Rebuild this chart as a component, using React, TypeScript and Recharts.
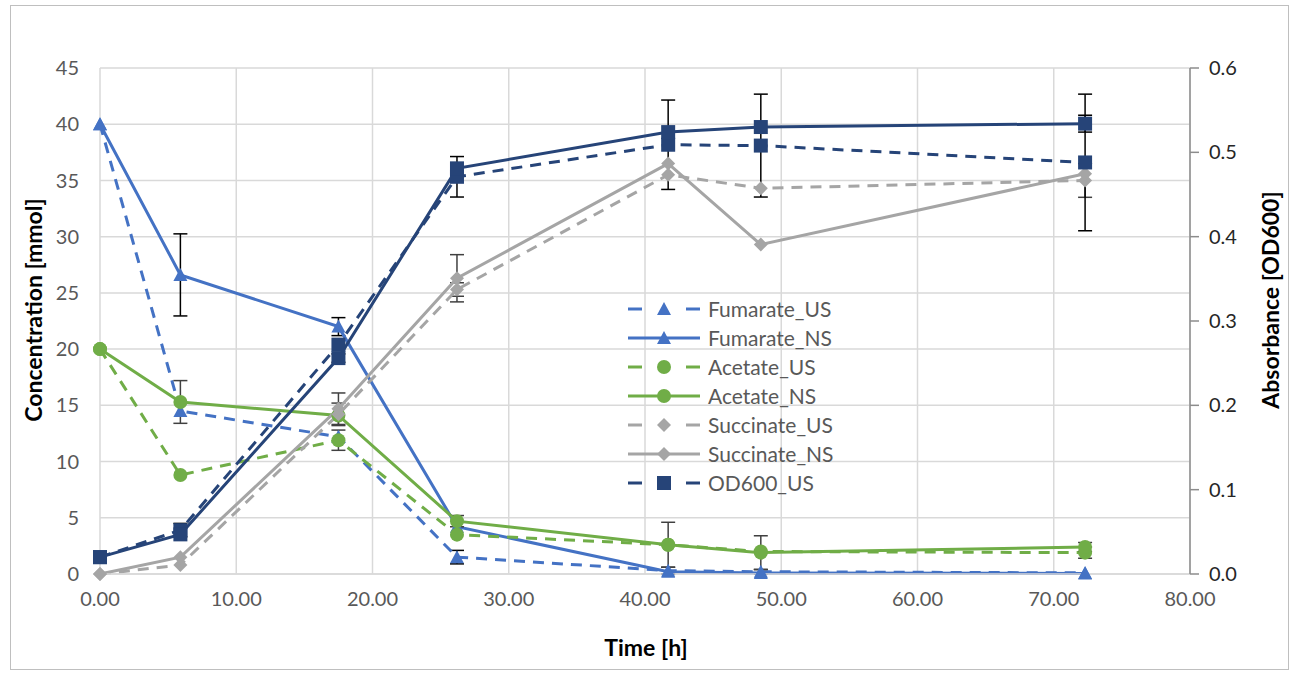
import React from 'react';
import { LineChart, Line, XAxis, YAxis, CartesianGrid, ErrorBar, Legend } from 'recharts';

const times = [0, 5.9, 17.5, 26.2, 41.7, 48.5, 72.3];
const fumarateUS = [40, 14.5, 12.2, 1.5, 0.3, 0.2, 0.1];
const fumarateNS = [40, 26.6, 22.0, 4.2, 0.2, 0.1, 0.05];
const acetateUS = [20, 8.8, 11.9, 3.5, 2.6, 2.0, 1.9];
const acetateNS = [20, 15.3, 14.1, 4.7, 2.6, 1.9, 2.4];
const succinateUS = [0, 0.8, 14.2, 25.3, 35.5, 34.3, 35.0];
const succinateNS = [0, 1.5, 14.7, 26.3, 36.5, 29.3, 35.6];
const od600US = [0.02, 0.052, 0.272, 0.471, 0.509, 0.508, 0.488];
const od600NS = [0.02, 0.047, 0.256, 0.481, 0.524, 0.53, 0.534];

const fumarateUSErr = [null, null, null, 0.6, 0.3, 0.2, null];
const fumarateNSErr = [null, 3.65, 0.8, null, null, null, null];
const acetateUSErr = [null, null, 0.9, null, null, null, 0.5];
const acetateNSErr = [null, 1.9, null, 0.5, 2.0, 1.5, 0.4];
const succinateUSErr = [null, null, 1.0, 0.6, null, null, 1.5];
const succinateNSErr = [null, null, 1.4, 2.1, null, null, null];
const od600USErr = [null, 0.008, null, 0.024, 0.053, 0.061, 0.081];
const od600NSErr = [null, null, 0.005, null, null, null, 0.01];

const xTicks = [0, 10, 20, 30, 40, 50, 60, 70, 80];
const leftTicks = [0, 5, 10, 15, 20, 25, 30, 35, 40, 45];
const rightTicks = [0, 0.1, 0.2, 0.3, 0.4, 0.5, 0.6];

const BLUE = '#4472C4';
const GREEN = '#70AD47';
const GRAY = '#A5A5A5';
const NAVY = '#264478';
const FONT = "Lato, 'Open Sans', sans-serif";

const data = times.map((t, i) => ({
  t,
  fus: fumarateUS[i], fns: fumarateNS[i],
  aus: acetateUS[i], ans: acetateNS[i],
  sus: succinateUS[i], sns: succinateNS[i],
  ous: od600US[i], ons: od600NS[i],
  fusE: fumarateUSErr[i], fnsE: fumarateNSErr[i],
  ausE: acetateUSErr[i], ansE: acetateNSErr[i],
  susE: succinateUSErr[i], snsE: succinateNSErr[i],
  ousE: od600USErr[i], onsE: od600NSErr[i],
}));

type ShapeName = 'triangle' | 'circle' | 'diamond' | 'square';

function Marker({ cx, cy, shape, color }: { cx: number; cy: number; shape: ShapeName; color: string }) {
  if (shape === 'triangle') {
    return <polygon points={`${cx},${cy - 7} ${cx + 7},${cy + 6} ${cx - 7},${cy + 6}`} fill={color} />;
  }
  if (shape === 'circle') return <circle cx={cx} cy={cy} r={7} fill={color} />;
  if (shape === 'diamond') {
    return <polygon points={`${cx},${cy - 7} ${cx + 7},${cy} ${cx},${cy + 7} ${cx - 7},${cy}`} fill={color} />;
  }
  return <rect x={cx - 7} y={cy - 7} width={14} height={14} fill={color} />;
}

const makeDot = (shape: ShapeName, color: string, id: string) => (props: any) => {
  const { cx, cy, index } = props;
  if (cx == null || cy == null) return <g key={`${id}-${index}`} />;
  return <g key={`${id}-${index}`}><Marker cx={cx} cy={cy} shape={shape} color={color} /></g>;
};

const legendItems: { name: string; color: string; dashed: boolean; shape: ShapeName }[] = [
  { name: 'Fumarate_US', color: BLUE, dashed: true, shape: 'triangle' },
  { name: 'Fumarate_NS', color: BLUE, dashed: false, shape: 'triangle' },
  { name: 'Acetate_US', color: GREEN, dashed: true, shape: 'circle' },
  { name: 'Acetate_NS', color: GREEN, dashed: false, shape: 'circle' },
  { name: 'Succinate_US', color: GRAY, dashed: true, shape: 'diamond' },
  { name: 'Succinate_NS', color: GRAY, dashed: false, shape: 'diamond' },
  { name: 'OD600_US', color: NAVY, dashed: true, shape: 'square' },
];

function LegendContent() {
  return (
    <div style={{ fontFamily: FONT, fontSize: 21, color: '#595959' }}>
      {legendItems.map((it) => (
        <div key={it.name} style={{ display: 'flex', alignItems: 'center', height: 29 }}>
          <svg width={72} height={20} style={{ display: 'block' }}>
            {it.dashed ? (
              <g>
                <line x1={0} x2={14} y1={10} y2={10} stroke={it.color} strokeWidth={3} />
                <line x1={58} x2={72} y1={10} y2={10} stroke={it.color} strokeWidth={3} />
              </g>
            ) : (
              <line x1={0} x2={72} y1={10} y2={10} stroke={it.color} strokeWidth={3} />
            )}
            <Marker cx={36} cy={10} shape={it.shape} color={it.color} />
          </svg>
          <span style={{ marginLeft: 8, whiteSpace: 'nowrap' }}>{it.name}</span>
        </div>
      ))}
    </div>
  );
}

const DASH = '11 8';

export default function App() {
  return (
    <div style={{ position: 'absolute', left: 0, top: 0, width: 1295, height: 677, background: '#fff' }}>
      <div style={{ position: 'absolute', left: 10, top: 5, width: 1277, height: 663, border: '1px solid #bfbfbf' }} />
      <LineChart
        width={1295}
        height={677}
        data={data}
        margin={{ top: 68, right: 0, bottom: 0, left: 0 }}
        style={{ position: 'absolute', left: 0, top: 0 }}
      >
        <CartesianGrid yAxisId="left" stroke="#d9d9d9" strokeWidth={1.5} horizontalValues={leftTicks} verticalValues={xTicks} />
        <XAxis
          dataKey="t"
          type="number"
          domain={[0, 80]}
          ticks={xTicks}
          tickFormatter={(v: number) => v.toFixed(2)}
          height={103}
          axisLine={{ stroke: '#d9d9d9', strokeWidth: 1.5 }}
          tickLine={false}
          tickSize={8}
          tickMargin={10}
          tick={{ fill: '#595959', fontSize: 20, fontFamily: FONT }}
          label={{
            content: () => (
              <text x={646} y={656} textAnchor="middle" fontFamily={FONT} fontWeight={700} fontSize={23} fill="#000">
                Time [h]
              </text>
            ),
          }}
        />
        <YAxis
          yAxisId="left"
          orientation="left"
          width={100}
          domain={[0, 45]}
          ticks={leftTicks}
          axisLine={false}
          tickLine={false}
          tickSize={8}
          tickMargin={13}
          tick={{ fill: '#595959', fontSize: 20, fontFamily: FONT }}
          label={{
            content: () => (
              <text
                x={33}
                y={310}
                transform="rotate(-90 33 310)"
                textAnchor="middle"
                dominantBaseline="central"
                fontFamily={FONT}
                fontWeight={700}
                fontSize={23}
                fill="#000"
              >
                Concentration [mmol]
              </text>
            ),
          }}
        />
        <YAxis
          yAxisId="right"
          orientation="right"
          width={105}
          domain={[0, 0.6]}
          ticks={rightTicks}
          tickFormatter={(v: number) => v.toFixed(1)}
          axisLine={{ stroke: '#8c8c8c', strokeWidth: 1.5 }}
          tickLine={{ stroke: '#8c8c8c', strokeWidth: 1.5 }}
          tickSize={9}
          tickMargin={10}
          tick={{ fill: '#262626', fontSize: 20, fontFamily: FONT }}
          label={{
            content: () => (
              <text
                x={1270}
                y={300}
                transform="rotate(-90 1270 300)"
                textAnchor="middle"
                dominantBaseline="central"
                fontFamily={FONT}
                fontWeight={700}
                fontSize={23}
                fill="#000"
              >
                Absorbance [OD600]
              </text>
            ),
          }}
        />
        <Legend
          layout="vertical"
          align="center"
          verticalAlign="middle"
          content={<LegendContent />}
          wrapperStyle={{ position: 'absolute', left: 628, top: 294, width: 260, height: 210 }}
        />

        <Line yAxisId="left" dataKey="fus" name="Fumarate_US" stroke={BLUE} strokeWidth={3} strokeDasharray={DASH} dot={makeDot('triangle', BLUE, 'fus')} isAnimationActive={false}>
          <ErrorBar dataKey="fusE" direction="y" width={7} stroke="#000" strokeWidth={1.5} />
        </Line>
        <Line yAxisId="left" dataKey="fns" name="Fumarate_NS" stroke={BLUE} strokeWidth={3} dot={makeDot('triangle', BLUE, 'fns')} isAnimationActive={false}>
          <ErrorBar dataKey="fnsE" direction="y" width={7} stroke="#000" strokeWidth={1.5} />
        </Line>
        <Line yAxisId="left" dataKey="aus" name="Acetate_US" stroke={GREEN} strokeWidth={3} strokeDasharray={DASH} dot={makeDot('circle', GREEN, 'aus')} isAnimationActive={false}>
          <ErrorBar dataKey="ausE" direction="y" width={7} stroke="#404040" strokeWidth={1.5} />
        </Line>
        <Line yAxisId="left" dataKey="ans" name="Acetate_NS" stroke={GREEN} strokeWidth={3} dot={makeDot('circle', GREEN, 'ans')} isAnimationActive={false}>
          <ErrorBar dataKey="ansE" direction="y" width={7} stroke="#404040" strokeWidth={1.5} />
        </Line>
        <Line yAxisId="left" dataKey="sus" name="Succinate_US" stroke={GRAY} strokeWidth={3} strokeDasharray={DASH} dot={makeDot('diamond', GRAY, 'sus')} isAnimationActive={false}>
          <ErrorBar dataKey="susE" direction="y" width={7} stroke="#404040" strokeWidth={1.5} />
        </Line>
        <Line yAxisId="left" dataKey="sns" name="Succinate_NS" stroke={GRAY} strokeWidth={3} dot={makeDot('diamond', GRAY, 'sns')} isAnimationActive={false}>
          <ErrorBar dataKey="snsE" direction="y" width={7} stroke="#404040" strokeWidth={1.5} />
        </Line>
        <Line yAxisId="right" dataKey="ous" name="OD600_US" stroke={NAVY} strokeWidth={3} strokeDasharray={DASH} dot={makeDot('square', NAVY, 'ous')} isAnimationActive={false}>
          <ErrorBar dataKey="ousE" direction="y" width={7} stroke="#000" strokeWidth={1.5} />
        </Line>
        <Line yAxisId="right" dataKey="ons" name="OD600_NS" legendType="none" stroke={NAVY} strokeWidth={3} dot={makeDot('square', NAVY, 'ons')} isAnimationActive={false}>
          <ErrorBar dataKey="onsE" direction="y" width={7} stroke="#000" strokeWidth={1.5} />
        </Line>
      </LineChart>
    </div>
  );
}
